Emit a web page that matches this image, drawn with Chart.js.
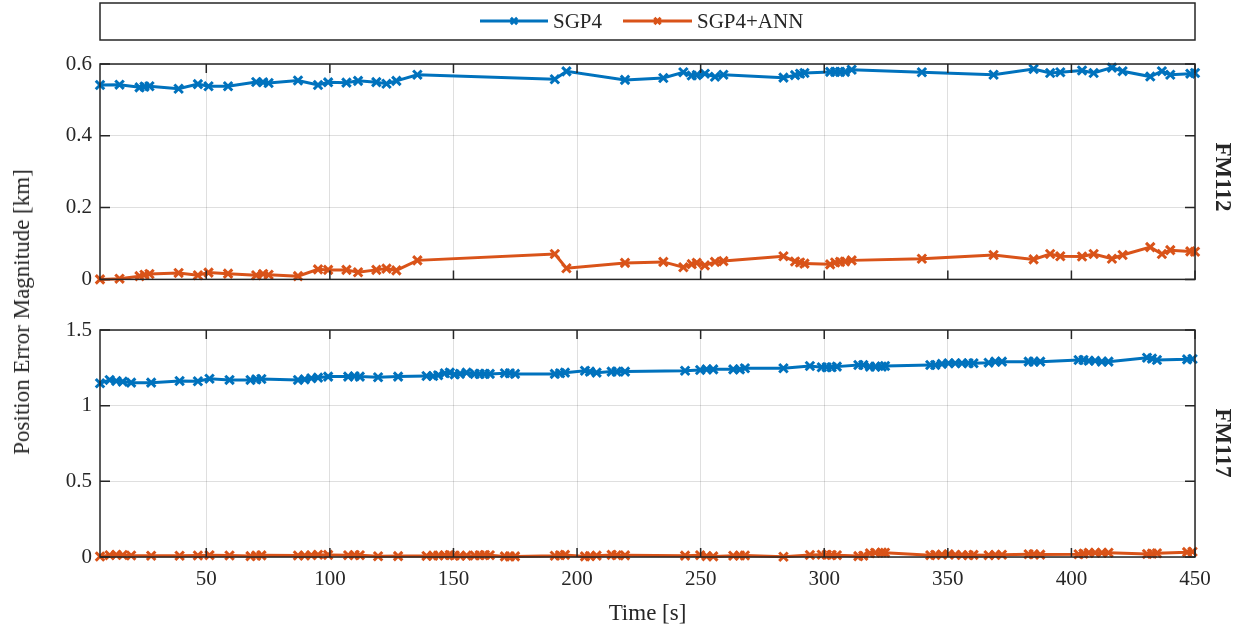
<!DOCTYPE html>
<html>
<head>
<meta charset="utf-8">
<script src="https://cdn.jsdelivr.net/npm/chart.js@4"></script>
<style>
  body { margin: 0; background: #fff; width: 1246px; height: 632px; position: relative; overflow: hidden;
         font-family: "Liberation Serif", serif; color: #262626; }
  canvas { position: absolute; left: 0; }
  #fm112Chart { top: 0; }
  #fm117Chart { top: 300px; }
  .lab { position: absolute; white-space: nowrap; }
  #ytitle { left: 22px; top: 312px; font-size: 23px; transform: translate(-50%, -50%) rotate(-90deg); }
  .fm { left: 1223px; font-size: 23px; font-weight: bold; transform: translate(-50%, -50%) rotate(90deg); }
</style>
</head>
<body>
<canvas id="fm112Chart" width="1246" height="300"></canvas>
<canvas id="fm117Chart" width="1246" height="332"></canvas>
<div class="lab" id="ytitle">Position Error Magnitude [km]</div>
<div class="lab fm" style="top:177px">FM112</div>
<div class="lab fm" style="top:443px">FM117</div>
<script>
// FM112 panel
const timeFM112 = [7, 14.9, 23, 25, 27, 38.8, 46.6, 50.9, 58.8, 70.2, 73, 75.2, 87.1, 95.2, 99.3,
    106.7, 111.4, 118.8, 122.9, 126.9, 135.4, 191, 195.7, 219.4, 234.9, 243, 246.4, 248.4, 251.7, 255.8,
    259.2, 283.5, 288.2, 290.2, 292, 302.4, 304.4, 306.4, 308.4, 311.1, 339.5, 368.5, 384.7, 391.4, 395.5,
    404.3, 409, 416.4, 420.7, 431.9, 436.6, 440, 448.1, 450];
const sgp4FM112 = [0.5415, 0.5424, 0.535, 0.537, 0.538, 0.531, 0.544, 0.538, 0.538, 0.550, 0.549, 0.547, 0.554, 0.5415, 0.549,
    0.548, 0.553, 0.5495, 0.545, 0.553, 0.570, 0.5575, 0.5796, 0.5557, 0.561, 0.577, 0.568, 0.569, 0.573, 0.5646,
    0.570, 0.562, 0.569, 0.573, 0.575, 0.578, 0.578, 0.578, 0.578, 0.584, 0.577, 0.570, 0.586, 0.575, 0.577,
    0.582, 0.575, 0.590, 0.580, 0.565, 0.580, 0.570, 0.573, 0.575];
const annFM112 = [0.0, 0.002, 0.009, 0.013, 0.015, 0.018, 0.0115, 0.019, 0.016, 0.0115, 0.015, 0.013, 0.009, 0.028, 0.0265,
    0.0265, 0.020, 0.0265, 0.030, 0.025, 0.053, 0.0708, 0.031, 0.046, 0.0487, 0.034, 0.0425, 0.046, 0.039, 0.0487,
    0.051, 0.0646, 0.050, 0.047, 0.044, 0.042, 0.047, 0.0487, 0.050, 0.053, 0.0575, 0.068, 0.0557, 0.0708, 0.0646,
    0.0637, 0.0708, 0.0575, 0.068, 0.090, 0.0708, 0.0814, 0.078, 0.077];

// FM117 panel
const timeFM117 = [7, 10.9, 13.6, 16.2, 19.6, 27.7, 39.2, 46.6, 51.3, 59.4,
    67.9, 70.2, 72.3, 87.1, 89.8, 92.5, 95.2, 99.3, 107.4, 110,
    112.1, 119.5, 127.6, 139.1, 141.8, 143.8, 146.5, 148.5, 150.5, 152.6,
    155.3, 158.6, 160.6, 162.7, 164.7, 170.8, 172.8, 174.9, 191, 193.1,
    195.1, 203.2, 205.2, 207.9, 214, 216, 219.4, 243.7, 249.8, 252.4,
    255.1, 263.2, 265.9, 267.9, 283.5, 294.2, 299, 301, 303, 305.1,
    313.8, 315.8, 318.5, 320.6, 323.3, 324.6, 342.9, 344.9, 347.6, 350.3,
    353, 355.7, 358.4, 360.4, 366.5, 369.2, 371.9, 382.7, 384.7, 387.4,
    402.9, 404.9, 407, 409.6, 412.3, 415, 430.6, 432.6, 434.6, 446.8, 449];
const sgp4FM117 = [1.148, 1.170, 1.163, 1.159, 1.152, 1.152, 1.163, 1.161, 1.178, 1.170,
    1.170, 1.174, 1.176, 1.170, 1.174, 1.181, 1.185, 1.192, 1.192, 1.194,
    1.192, 1.188, 1.192, 1.196, 1.196, 1.201, 1.214, 1.218, 1.207, 1.210,
    1.218, 1.210, 1.210, 1.210, 1.210, 1.214, 1.214, 1.210, 1.210, 1.214,
    1.218, 1.231, 1.225, 1.218, 1.225, 1.225, 1.225, 1.231, 1.236, 1.240,
    1.240, 1.240, 1.240, 1.247, 1.247, 1.262, 1.254, 1.254, 1.254, 1.258,
    1.269, 1.269, 1.258, 1.258, 1.258, 1.262, 1.269, 1.269, 1.276, 1.280,
    1.280, 1.280, 1.280, 1.280, 1.284, 1.291, 1.291, 1.291, 1.291, 1.291,
    1.302, 1.302, 1.297, 1.297, 1.291, 1.291, 1.317, 1.311, 1.302, 1.306, 1.308];
const annFM117 = [0.003, 0.012, 0.015, 0.013, 0.010, 0.008, 0.008, 0.010, 0.012, 0.010,
    0.006, 0.009, 0.011, 0.010, 0.010, 0.012, 0.015, 0.014, 0.012, 0.013,
    0.012, 0.005, 0.006, 0.007, 0.009, 0.010, 0.012, 0.013, 0.010, 0.008,
    0.009, 0.010, 0.012, 0.013, 0.012, 0.004, 0.004, 0.004, 0.008, 0.012,
    0.014, 0.004, 0.006, 0.009, 0.014, 0.012, 0.011, 0.009, 0.012, 0.006,
    0.004, 0.008, 0.010, 0.010, 0.002, 0.013, 0.015, 0.015, 0.013, 0.012,
    0.006, 0.008, 0.025, 0.028, 0.030, 0.028, 0.012, 0.014, 0.016, 0.018,
    0.015, 0.013, 0.012, 0.014, 0.012, 0.014, 0.015, 0.018, 0.018, 0.016,
    0.018, 0.022, 0.027, 0.028, 0.028, 0.028, 0.020, 0.022, 0.025, 0.032, 0.035];

const xTicks = [50, 100, 150, 200, 250, 300, 350, 400, 450];
const yTicksFM112 = [0, 0.2, 0.4, 0.6];
const yTicksFM117 = [0, 0.5, 1, 1.5];
const seriesNames = ["SGP4", "SGP4+ANN"];
const seriesColors = ["#0072BD", "#D95319"];

const axisColor = "#262626";
const gridColor = "rgba(38,38,38,0.15)";
const tickFont = { family: "Liberation Serif", size: 21 };

// box round the plot area with inward ticks, like MATLAB
const framePlugin = {
    id: "frame",
    afterDatasetsDraw(chart) {
        const ctx = chart.ctx;
        const a = chart.chartArea;
        const x = chart.scales.x, y = chart.scales.y;
        ctx.save();
        ctx.strokeStyle = axisColor;
        ctx.lineWidth = 1.5;
        ctx.beginPath();
        x.ticks.forEach(t => {
            const px = x.getPixelForValue(t.value);
            ctx.moveTo(px, a.bottom); ctx.lineTo(px, a.bottom - 9);
            ctx.moveTo(px, a.top); ctx.lineTo(px, a.top + 9);
        });
        y.ticks.forEach(t => {
            const py = y.getPixelForValue(t.value);
            ctx.moveTo(a.left, py); ctx.lineTo(a.left + 10, py);
            ctx.moveTo(a.right, py); ctx.lineTo(a.right - 10, py);
        });
        ctx.stroke();
        ctx.strokeRect(a.left, a.top, a.right - a.left, a.bottom - a.top);
        ctx.restore();
    }
};

// legend box above the top panel
const legendPlugin = {
    id: "legendBox",
    afterDraw(chart) {
        const ctx = chart.ctx;
        const a = chart.chartArea;
        ctx.save();
        ctx.strokeStyle = axisColor;
        ctx.lineWidth = 1.5;
        ctx.strokeRect(a.left, 3, a.right - a.left, 37);
        const yMid = 21;
        const entries = [{ x0: 480, x1: 548, tx: 553 }, { x0: 623, x1: 692, tx: 697 }];
        entries.forEach((e, i) => {
            ctx.strokeStyle = seriesColors[i];
            ctx.lineWidth = 3;
            ctx.beginPath();
            ctx.moveTo(e.x0, yMid); ctx.lineTo(e.x1, yMid);
            ctx.stroke();
            ctx.lineWidth = 3;
            Chart.helpers.drawPoint(ctx, { pointStyle: "crossRot", radius: 4.5, rotation: 0, borderWidth: 3 },
                (e.x0 + e.x1) / 2, yMid);
            ctx.fillStyle = axisColor;
            ctx.font = "21px 'Liberation Serif'";
            ctx.textBaseline = "middle";
            ctx.fillText(seriesNames[i], e.tx, yMid + 1);
        });
        ctx.restore();
    }
};

function makePanel(id, times, sgp4, ann, yTicks, bottomPanel) {
    const toPoints = (vals) => times.map((t, i) => ({ x: t, y: vals[i] }));
    const plugins = [framePlugin];
    if (!bottomPanel) plugins.push(legendPlugin);
    return new Chart(id, {
        type: "line",
        data: {
            datasets: [sgp4, ann].map((vals, i) => ({
                label: seriesNames[i],
                data: toPoints(vals),
                borderColor: seriesColors[i],
                backgroundColor: seriesColors[i],
                borderWidth: 3,
                pointStyle: "crossRot",
                pointRadius: 6,
                pointBorderWidth: 3,
                pointHoverRadius: 6,
                tension: 0,
                clip: 8
            }))
        },
        options: {
            responsive: false,
            animation: false,
            events: [],
            layout: { padding: { top: bottomPanel ? 30 : 64, right: 51, left: 0, bottom: 0 } },
            plugins: { legend: { display: false }, tooltip: { enabled: false } },
            scales: {
                x: {
                    type: "linear",
                    min: 7,
                    max: 450,
                    afterBuildTicks: s => { s.ticks = xTicks.map(v => ({ value: v })); },
                    afterFit: s => { s.height = bottomPanel ? 75 : 10; },
                    grid: { color: gridColor, lineWidth: 1, drawTicks: false },
                    border: { display: false },
                    ticks: { display: bottomPanel, font: tickFont, color: axisColor, padding: 10, maxRotation: 0 },
                    title: { display: bottomPanel, text: "Time [s]", font: { family: "Liberation Serif", size: 23 },
                             color: axisColor, padding: { top: 0 } }
                },
                y: {
                    min: 0,
                    max: yTicks[yTicks.length - 1],
                    afterBuildTicks: s => { s.ticks = yTicks.map(v => ({ value: v })); },
                    afterFit: s => { s.width = 100; },
                    grid: { color: gridColor, lineWidth: 1, drawTicks: false },
                    border: { display: false },
                    ticks: { font: tickFont, color: axisColor, padding: 8, callback: v => String(v) }
                }
            }
        },
        plugins: plugins
    });
}

makePanel("fm112Chart", timeFM112, sgp4FM112, annFM112, yTicksFM112, false);
makePanel("fm117Chart", timeFM117, sgp4FM117, annFM117, yTicksFM117, true);
</script>
</body>
</html>
